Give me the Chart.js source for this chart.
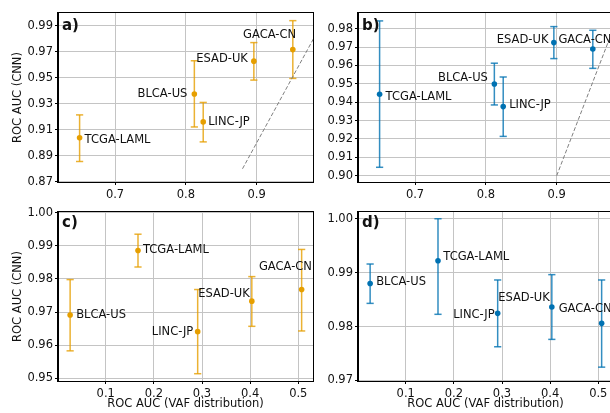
<!DOCTYPE html>
<html>
<head>
<meta charset="utf-8">
<script src="https://cdn.jsdelivr.net/npm/chart.js@4"></script>
<style>
  html, body { margin: 0; padding: 0; background: #fff; overflow: hidden; }
  #wrap { position: relative; width: 610px; height: 413px; overflow: hidden; background: #fff; }
  #wrap canvas { position: absolute; left: 0; top: 0; }
</style>
</head>
<body>
<div id="wrap">
  <canvas id="ca" width="620" height="413"></canvas>
  <canvas id="cb" width="620" height="413"></canvas>
  <canvas id="cc" width="620" height="413"></canvas>
  <canvas id="cd" width="620" height="413"></canvas>
</div>
<script>
// ---------------- DATA ----------------
const categories = ['TCGA-LAML', 'BLCA-US', 'LINC-JP', 'ESAD-UK', 'GACA-CN'];

// panels a, b : x = ROC AUC (other model)
const abX = [0.650, 0.812, 0.8245, 0.896, 0.951];
const aY  = [0.9038, 0.9376, 0.9161, 0.9629, 0.9718];
const aLo = [0.8856, 0.9122, 0.9007, 0.9483, 0.9496];
const aHi = [0.9215, 0.9632, 0.9311, 0.9772, 0.9941];

const bY  = [0.9443, 0.9499, 0.9376, 0.9724, 0.9689];
const bLo = [0.9046, 0.9385, 0.9214, 0.9637, 0.9584];
const bHi = [0.9842, 0.9612, 0.9537, 0.9811, 0.9791];

// panels c, d : x = ROC AUC (VAF distribution)
const cdX = [0.167, 0.026, 0.291, 0.4035, 0.507];
const cY  = [0.9886, 0.9691, 0.9641, 0.9733, 0.9768];
const cLo = [0.9836, 0.9583, 0.9514, 0.9657, 0.9643];
const cHi = [0.9935, 0.9798, 0.9768, 0.9807, 0.9889];

const dY  = [0.9922, 0.9880, 0.98245, 0.98363, 0.98059];
const dLo = [0.98227, 0.9843, 0.97625, 0.97762, 0.97247];
const dHi = [1.0000, 0.9916, 0.98864, 0.98963, 0.98864];

// identity reference line (y = x)
const diagA = [0.88, 1.0];
const diagB = [0.90, 1.0];

// tick labels
const abXTicks = ['0.7', '0.8', '0.9'];
const aYTicks  = ['0.87', '0.89', '0.91', '0.93', '0.95', '0.97', '0.99'];
const bYTicks  = ['0.90', '0.91', '0.92', '0.93', '0.94', '0.95', '0.96', '0.97', '0.98'];
const cdXTicks = ['0.1', '0.2', '0.3', '0.4', '0.5'];
const cYTicks  = ['0.95', '0.96', '0.97', '0.98', '0.99', '1.00'];
const dYTicks  = ['0.97', '0.98', '0.99', '1.00'];

const yTitle = 'ROC AUC (CNN)';
const xTitle = 'ROC AUC (VAF distribution)';

// ---------------- STYLE ----------------
const FONT = "'DejaVu Sans', sans-serif";
const ORANGE = '#E69F00', ORANGE_BAR = 'rgba(230,159,0,0.8)';
const BLUE = '#0072B2', BLUE_BAR = 'rgba(0,114,178,0.8)';

// label placement (pixel offsets from the point): [dx, dy, align]
const labelPlace = {
  a: [[5, 2, 'left'], [-7, 0, 'right'], [5, 0, 'left'], [-6, -2, 'right'], [3.3, -14.7, 'right']],
  b: [[6, 3, 'left'], [-6.5, -6, 'right'], [6, -2, 'left'], [-5.4, -2.4, 'right'], [-34.4, -8.7, 'left']],
  c: [[5, 0, 'left'], [6, 0, 'left'], [-4.4, 0, 'right'], [-2, -7, 'right'], [-42.7, -23, 'left']],
  d: [[5.3, -4, 'left'], [6, -1, 'left'], [-3, 1.7, 'right'], [-2, -9.3, 'right'], [-43, -14.3, 'left']]
};

const panelPlugin = {
  id: 'panelDecor',
  afterDatasetsDraw(chart, args, opts) {
    const ctx = chart.ctx, ca = chart.chartArea;
    // point labels
    const meta = chart.getDatasetMeta(opts.pointIndex);
    ctx.save();
    ctx.font = '11.5px ' + FONT;
    ctx.fillStyle = '#111';
    ctx.textBaseline = 'middle';
    meta.data.forEach((el, i) => {
      const p = opts.place[i];
      ctx.textAlign = p[2];
      ctx.fillText(opts.names[i], el.x + p[0], el.y + p[1]);
    });
    // panel letter
    ctx.font = 'bold 15px ' + FONT;
    ctx.textAlign = 'left';
    ctx.textBaseline = 'alphabetic';
    ctx.fillText(opts.letter, ca.left + 4, ca.top + opts.letterDy);
    // frame
    ctx.strokeStyle = '#000';
    ctx.lineWidth = 1;
    ctx.strokeRect(Math.round(ca.left) - 0.5, Math.round(ca.top) - 0.5,
                   Math.round(ca.right - ca.left) + 1, Math.round(ca.bottom - ca.top) + 1);
    ctx.restore();
  }
};

function errData(xs, lo, hi) {
  const out = [];
  xs.forEach((x, i) => {
    out.push({x: x, y: lo[i]});
    out.push({x: x, y: hi[i]});
    out.push({x: x, y: null});
  });
  return out;
}

function makePanel(id, cfg) {
  const datasets = [];
  if (cfg.diag) {
    datasets.push({
      type: 'line',
      data: cfg.diag.map(v => ({x: v, y: v})),
      borderColor: '#7f7f7f', borderWidth: 1, borderDash: [4, 2],
      pointRadius: 0, showLine: true, fill: false
    });
  }
  datasets.push({
    type: 'line',
    data: errData(cfg.x, cfg.lo, cfg.hi),
    borderColor: cfg.barColor, borderWidth: 1.5,
    pointStyle: 'line', pointRadius: 3.6, pointBorderWidth: 1.5,
    pointBorderColor: cfg.barColor, pointBackgroundColor: cfg.barColor,
    showLine: true, spanGaps: false, fill: false
  });
  datasets.push({
    type: 'scatter',
    data: cfg.x.map((x, i) => ({x: x, y: cfg.y[i]})),
    pointRadius: 2.8, pointBorderWidth: 0,
    pointBackgroundColor: cfg.color, borderColor: cfg.color
  });

  const xTickVals = cfg.xTicks.map(Number);
  const yTickVals = cfg.yTicks.map(Number);

  return new Chart(document.getElementById(id), {
    type: 'scatter',
    data: { datasets },
    plugins: [panelPlugin],
    options: {
      responsive: false, animation: false, devicePixelRatio: 1,
      layout: { padding: cfg.pad },
      plugins: {
        legend: { display: false }, tooltip: { enabled: false },
        panelDecor: { pointIndex: datasets.length - 1, names: categories, place: cfg.place,
                      letter: cfg.letter, letterDy: cfg.letterDy }
      },
      scales: {
        x: {
          type: 'linear', min: cfg.xMin, max: cfg.xMax,
          afterBuildTicks: s => { s.ticks = xTickVals.map(v => ({value: v})); },
          afterFit: s => { s.height = cfg.xH; },
          ticks: { autoSkip: false, maxRotation: 0, padding: 3, color: '#111',
                   font: { family: FONT, size: 11.5 },
                   callback: (v) => { const k = xTickVals.indexOf(v); return k >= 0 ? cfg.xTicks[k] : ''; } },
          grid: { color: '#c4c4c4', lineWidth: 1, tickLength: 3, tickColor: '#000', drawTicks: true },
          border: { display: true, color: '#000', width: 1 },
          title: { display: !!cfg.xTitle, text: cfg.xTitle || '', color: '#111',
                   font: { family: FONT, size: 11.5 }, padding: { top: 0, bottom: 2 } }
        },
        y: {
          type: 'linear', min: cfg.yMin, max: cfg.yMax,
          afterBuildTicks: s => { s.ticks = yTickVals.map(v => ({value: v})); },
          afterFit: s => { s.width = 58; },
          ticks: { autoSkip: false, padding: 2, color: '#111',
                   font: { family: FONT, size: 11.5 },
                   callback: (v) => { const k = yTickVals.indexOf(v); return k >= 0 ? cfg.yTicks[k] : ''; } },
          grid: { color: '#c4c4c4', lineWidth: 1, tickLength: 3, tickColor: '#000', drawTicks: true },
          border: { display: true, color: '#000', width: 1 },
          title: { display: !!cfg.yTitle, text: cfg.yTitle || '', color: '#111',
                   font: { family: FONT, size: 11.5 }, padding: { top: 11, bottom: 0 } }
        }
      }
    }
  });
}

makePanel('ca', {
  x: abX, y: aY, lo: aLo, hi: aHi, diag: diagA, color: ORANGE, barColor: ORANGE_BAR,
  xMin: 0.6195, xMax: 0.9795, yMin: 0.8698, yMax: 1.0,
  xTicks: abXTicks, yTicks: aYTicks, yTitle: yTitle, xTitle: null,
  pad: { left: 0, top: 13, right: 307, bottom: 211 }, xH: 20,
  place: labelPlace.a, letter: 'a)', letterDy: 17
});
makePanel('cb', {
  x: abX, y: bY, lo: bLo, hi: bHi, diag: diagB, color: BLUE, barColor: BLUE_BAR,
  xMin: 0.6195, xMax: 0.9795, yMin: 0.8966, yMax: 0.9885,
  xTicks: abXTicks, yTicks: bYTicks, yTitle: null, xTitle: null,
  pad: { left: 300, top: 13, right: 7, bottom: 211 }, xH: 20,
  place: labelPlace.b, letter: 'b)', letterDy: 17
});
makePanel('cc', {
  x: cdX, y: cY, lo: cLo, hi: cHi, diag: null, color: ORANGE, barColor: ORANGE_BAR,
  xMin: 0.0008, xMax: 0.5306, yMin: 0.9492, yMax: 1.0002,
  xTicks: cdXTicks, yTicks: cYTicks, yTitle: yTitle, xTitle: xTitle,
  pad: { left: 0, top: 212, right: 307, bottom: 0 }, xH: 32,
  place: labelPlace.c, letter: 'c)', letterDy: 15
});
makePanel('cd', {
  x: cdX, y: dY, lo: dLo, hi: dHi, diag: null, color: BLUE, barColor: BLUE_BAR,
  xMin: 0.0008, xMax: 0.5306, yMin: 0.9699, yMax: 1.00125,
  xTicks: cdXTicks, yTicks: dYTicks, yTitle: null, xTitle: xTitle,
  pad: { left: 300, top: 212, right: 7, bottom: 0 }, xH: 32,
  place: labelPlace.d, letter: 'd)', letterDy: 15
});
</script>
</body>
</html>
